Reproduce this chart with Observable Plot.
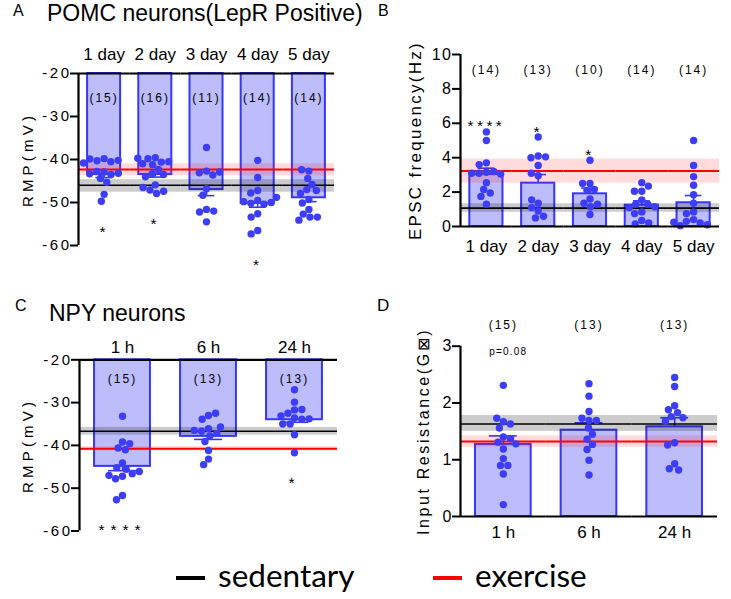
<!DOCTYPE html>
<html><head><meta charset="utf-8">
<script src="https://cdn.jsdelivr.net/npm/d3@7"></script>
<script src="https://cdn.jsdelivr.net/npm/@observablehq/plot@0.6"></script>
<style>
body{margin:0;background:#fff;}
#fig{position:relative;width:731px;height:599px;overflow:hidden;font-family:"Liberation Sans",Arial,sans-serif;color:#000;background:#fff;}
#fig svg{position:absolute;background:transparent;overflow:visible;}
.lbl{position:absolute;white-space:nowrap;line-height:1;}
.leg{position:absolute;white-space:nowrap;line-height:1;font-family:Lato,"Open Sans",sans-serif;font-size:31.5px;}
.dash{position:absolute;height:3.5px;}
#pA g[aria-label="y-axis tick label"] text,#pC g[aria-label="y-axis tick label"] text{letter-spacing:2.5px;}
#pB g[aria-label="y-axis tick label"] text{letter-spacing:1.5px;}
#pA g[aria-label="y-axis label"] text,#pC g[aria-label="y-axis label"] text{font-size:15px;letter-spacing:4.2px;}
#pB g[aria-label="y-axis label"] text{font-size:17px;letter-spacing:2.3px;}
#pD g[aria-label="y-axis label"] text{font-size:16px;letter-spacing:2.6px;}
#fig g[font-size="12"] text{letter-spacing:2px;}
#pA g[font-size="15.5"] text,#pB g[font-size="15.5"] text{letter-spacing:3.4px;}
#pC g[font-size="15.5"] text{letter-spacing:6px;}
#fig g[font-size="10"] text{letter-spacing:1.2px;}
</style>
</head><body>
<div id="fig"></div>
<script>
// ---------- data ----------
const pomcDays = ["1 day", "2 day", "3 day", "4 day", "5 day"];
const npyTimes = ["1 h", "6 h", "24 h"];

// A: POMC RMP (mV)
const pomcRmpMeans = [-43.5, -43.5, -47.0, -50.2, -48.9];
const pomcRmpSem = [0.7, 0.6, 1.4, 0.9, 0.9];
const pomcRmpPoints = [
  [-39.8, -40.3, -40.5, -40.2, -39.9, -40.8, -42.9, -42.8, -43.5, -43.2, -44.4, -43.3, -45.3, -48.1, -49.7],
  [-39.6, -39.8, -40.6, -41.0, -41.2, -40.5, -39.7, -42.3, -43.3, -43.5, -44.0, -45.9, -47.1, -47.9, -47.4, -46.5],
  [-37.2, -42.7, -43.1, -43.6, -42.9, -46.8, -48.3, -51.6, -52.2, -52.0, -54.5],
  [-40.2, -44.2, -47.2, -47.8, -49.5, -50.2, -50.4, -50.0, -49.8, -52.6, -53.4, -56.5, -57.3, -48.8],
  [-42.7, -42.4, -44.4, -45.8, -47.0, -47.2, -47.9, -49.3, -50.1, -51.6, -52.7, -53.4, -53.4, -54.1]
];
const pomcRmpSig = ["*", "*", "", "*", ""];
const pomcRmpSed = [-46.0, -44.7, -47.6];   // mean, band edges
const pomcRmpExe = [-42.3, -41.0, -43.8];

// B: POMC EPSC frequency (Hz)
const pomcEpscMeans = [3.02, 2.52, 1.9, 1.24, 1.38];
const pomcEpscSem = [0.37, 0.5, 0.33, 0.25, 0.42];
const pomcEpscPoints = [
  [5.0, 5.5, 3.7, 3.6, 3.15, 3.1, 3.2, 3.05, 3.1, 2.55, 2.15, 1.95, 1.75, 1.3],
  [4.1, 4.0, 4.05, 5.2, 3.55, 2.95, 3.1, 1.35, 1.55, 0.9, 1.1, 0.5, 0.6],
  [3.85, 2.5, 2.5, 2.15, 2.1, 1.6, 1.35, 1.15, 1.3, 0.7],
  [2.55, 2.05, 2.05, 2.35, 1.55, 1.3, 1.3, 1.15, 1.1, 0.85, 0.75, 0.35, 0.15, 0.2],
  [5.0, 3.55, 2.9, 2.4, 1.85, 1.35, 0.85, 0.75, 0.4, 0.3, 0.2, 0.1, 0.05, 0.25]
];
const pomcEpscSig = ["****", "*", "*", "", ""];
const pomcEpscSed = [1.07, 0.83, 1.32];
const pomcEpscExe = [3.22, 2.52, 3.92];

// C: NPY RMP (mV)
const npyRmpMeans = [-44.9, -37.9, -34.0];
const npyRmpSem = [1.0, 0.7, 0.6];
const npyRmpPoints = [
  [-33.2, -39.2, -40.6, -41.0, -39.6, -44.1, -45.2, -45.6, -46.6, -47.2, -47.8, -47.0, -46.1, -51.7, -52.7],
  [-33.0, -33.9, -32.5, -36.1, -36.7, -37.8, -39.1, -37.2, -36.5, -35.7, -41.2, -43.2, -44.5],
  [-27.0, -29.9, -31.7, -32.5, -31.6, -33.6, -33.9, -33.1, -35.0, -35.0, -37.5, -41.7, -33.8]
];
const npyRmpSig = ["****", "", "*"];
const npyRmpSed = [-36.7, -35.8, -37.6];
const npyRmpExe = [-40.8, -40.3, -41.3];

// D: NPY input resistance (GΩ)
const npyRinMeans = [1.27, 1.52, 1.58];
const npyRinSem = [0.15, 0.13, 0.16];
const npyRinPoints = [
  [2.31, 1.67, 1.56, 1.63, 1.73, 1.40, 1.31, 1.37, 1.28, 1.19, 1.02, 0.90, 0.90, 0.75, 0.21],
  [2.34, 2.12, 1.85, 1.69, 1.73, 1.69, 1.56, 1.45, 1.36, 1.27, 1.18, 0.99, 0.73],
  [2.45, 2.29, 1.95, 1.88, 1.83, 1.76, 1.74, 1.68, 1.30, 1.26, 0.93, 0.84, 0.82]
];
const npyRinSig = ["", "", ""];
const npyRinNote = ["p=0.08", "", ""];
const npyRinSed = [1.63, 1.50, 1.78];
const npyRinExe = [1.32, 1.22, 1.42];

const rmpTicks = [-20, -30, -40, -50, -60];
const epscTicks = [0, 2, 4, 6, 8, 10];
const rinTicks = [0, 1, 2, 3];

const legendLabels = ["sedentary", "exercise"];
const legendColors = ["#000000", "#ff0000"];

// ---------- drawing ----------
const BAR_FILL = "#bdbdfb", BAR_STROKE = "#3636ff", DOT = "#3d3df8";
const fig = document.getElementById("fig");

function panel(c) {
  const rows = c.cats.map((cat, i) => ({
    cat, mean: c.means[i], sem: c.sems[i], n: c.points[i].length, sig: c.sig[i],
    note: c.note ? c.note[i] : "",
    ext: c.dir > 0 ? d3.max(c.points[i]) : d3.min(c.points[i])
  }));
  const dots = c.cats.flatMap((cat, i) => c.points[i].map(v => ({cat, v})));
  const svg = Plot.plot({
    width: c.w, height: c.h,
    marginLeft: c.ml, marginRight: c.mr, marginTop: c.mt, marginBottom: c.mb,
    style: {fontFamily: '"Liberation Sans", Arial, sans-serif', fontSize: "13px", color: "#000", background: "transparent", overflow: "visible"},
    fx: {domain: c.cats, padding: 0, round: false},
    x: {domain: [-1, 1], axis: null},
    y: {domain: c.yDomain, axis: null},
    marks: [
      Plot.rect(rows, {fx: "cat", x1: -c.bh, x2: c.bh, y1: c.base, y2: "mean", fill: BAR_FILL, stroke: BAR_STROKE, strokeWidth: 2}),
      Plot.ruleX(rows, {fx: "cat", x: 0, y1: "mean", y2: d => d.mean + c.dir * d.sem, stroke: BAR_STROKE, strokeWidth: 1.6}),
      Plot.ruleY(rows, {fx: "cat", y: d => d.mean + c.dir * d.sem, x1: -c.bh / 2, x2: c.bh / 2, stroke: BAR_STROKE, strokeWidth: 1.6}),
      Plot.rect([c.sed], {x1: -1, x2: 1, y1: d => d[1], y2: d => d[2], fill: "#000", fillOpacity: 0.2}),
      Plot.rect([c.exe], {x1: -1, x2: 1, y1: d => d[1], y2: d => d[2], fill: "#ff0000", fillOpacity: 0.14}),
      Plot.ruleY([c.sed], {y: d => d[0], stroke: "#000", strokeWidth: 1.6}),
      Plot.ruleY([c.exe], {y: d => d[0], stroke: "#ff0000", strokeWidth: 2}),
      Plot.dot(dots, Plot.dodgeX({anchor: "middle", padding: 0}, {fx: "cat", y: "v", r: 3.7, fill: DOT})),
      Plot.ruleY([c.base], {stroke: "#000", strokeWidth: 2.2}),
      Plot.ruleX([c.cats[0]], {fx: d => d, x: -1, y1: c.yDomain[0], y2: c.yDomain[1], stroke: "#000", strokeWidth: 2.2}),
      Plot.axisY({ticks: c.ticks, tickFormat: d => String(d), tickSize: 8, tickPadding: c.tp, strokeWidth: 2, fontSize: c.tfs,
        label: c.yLabel, labelAnchor: "center", labelOffset: c.lo, labelArrow: false}),
      Plot.axisFx({anchor: c.fxAnchor, tickSize: 0, tickPadding: c.fxPad, fontSize: 17, label: null}),
      Plot.text(rows, {fx: "cat", x: 0, y: c.nY, text: d => `(${d.n})`, fontSize: 12}),
      Plot.text(rows.filter(d => d.sig), {fx: "cat", x: 0, y: d => d.ext + c.dir * c.sigOff, text: "sig", fontSize: 15.5, dy: 4}),
      Plot.text(rows.filter(d => d.note), {fx: "cat", x: 0, y: c.noteY, dx: 5, text: "note", fontSize: 10})
    ]
  });
  const wrap = document.createElement("div");
  wrap.id = c.id;
  svg.style.left = c.left + "px";
  svg.style.top = c.top + "px";
  wrap.appendChild(svg);
  fig.appendChild(wrap);
}

panel({id: "pA", left: 0, top: 0, w: 360, h: 270, ml: 78, mr: 26, mt: 73, mb: 25,
  cats: pomcDays, means: pomcRmpMeans, sems: pomcRmpSem, points: pomcRmpPoints, sig: pomcRmpSig,
  sed: pomcRmpSed, exe: pomcRmpExe, base: -20, dir: -1, yDomain: [-60, -20], ticks: rmpTicks,
  yLabel: "RMP(mV)", lo: 56, tp: -1, tfs: 15, bh: 0.645, fxAnchor: "top", fxPad: 14, nY: -25.8, sigOff: 6.2});

panel({id: "pB", left: 370, top: 0, w: 361, h: 270, ml: 90, mr: 12, mt: 54, mb: 44,
  cats: pomcDays, means: pomcEpscMeans, sems: pomcEpscSem, points: pomcEpscPoints, sig: pomcEpscSig,
  sed: pomcEpscSed, exe: pomcEpscExe, base: 0, dir: 1, yDomain: [0, 10], ticks: epscTicks,
  yLabel: "EPSC frequency(Hz)", lo: 52, tp: 0, tfs: 16, bh: 0.64, fxAnchor: "bottom", fxPad: 13, nY: 9.07, sigOff: 0.55});

panel({id: "pC", left: 0, top: 280, w: 360, h: 270, ml: 79, mr: 23, mt: 79.3, mb: 19.5,
  cats: npyTimes, means: npyRmpMeans, sems: npyRmpSem, points: npyRmpPoints, sig: npyRmpSig,
  sed: npyRmpSed, exe: npyRmpExe, base: -20, dir: -1, yDomain: [-60, -20], ticks: rmpTicks,
  yLabel: "RMP(mV)", lo: 57, tp: -1, tfs: 15, bh: 0.65, fxAnchor: "top", fxPad: 7, nY: -24.6, sigOff: 6.1});

panel({id: "pD", left: 370, top: 280, w: 361, h: 270, ml: 90, mr: 14, mt: 65.7, mb: 34,
  cats: npyTimes, means: npyRinMeans, sems: npyRinSem, points: npyRinPoints, sig: npyRinSig, note: npyRinNote,
  sed: npyRinSed, exe: npyRinExe, base: 0, dir: 1, yDomain: [0, 3], ticks: rinTicks,
  yLabel: "Input Resistance(G\u22A0)", lo: 43, tp: 1, tfs: 16, bh: 0.65, fxAnchor: "bottom", fxPad: 9, nY: 3.37, noteY: 2.9, sigOff: 0.5});

// titles and panel letters
function label(text, left, top, size) {
  const d = document.createElement("div");
  d.className = "lbl";
  d.textContent = text;
  d.style.left = left + "px"; d.style.top = top + "px"; d.style.fontSize = size + "px";
  fig.appendChild(d);
}
label("A", 13, 3, 16);
label("POMC neurons(LepR Positive)", 47, 2, 23);
label("B", 378, 3, 16);
label("C", 15, 298, 16);
label("NPY neurons", 49, 302, 23);
label("D", 377, 297, 17);

// legend
const legX = [176, 433];
legendLabels.forEach((t, i) => {
  const dash = document.createElement("div");
  dash.className = "dash";
  dash.style.left = legX[i] + "px"; dash.style.top = "576px"; dash.style.width = "29px";
  dash.style.background = legendColors[i];
  fig.appendChild(dash);
  const d = document.createElement("div");
  d.className = "leg";
  d.textContent = t;
  d.style.left = (legX[i] + 42) + "px"; d.style.top = "560px";
  fig.appendChild(d);
});
</script>
</body></html>
